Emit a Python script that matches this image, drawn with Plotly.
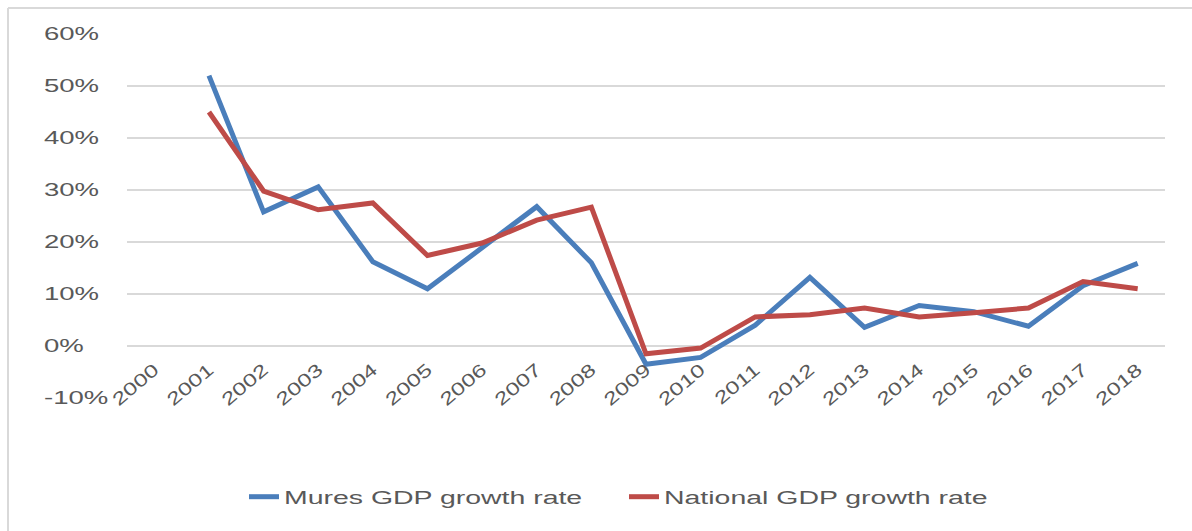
import plotly.graph_objects as go

years = [str(y) for y in range(2000, 2019)]
mures_growth = [None, 52.0, 25.8, 30.6, 16.2, 11.0, 19.0, 26.8, 16.0, -3.5,
                -2.2, 4.0, 13.2, 3.6, 7.8, 6.6, 3.8, 11.6, 15.9]
national_growth = [None, 45.0, 29.8, 26.2, 27.5, 17.4, 19.8, 24.2, 26.7, -1.5,
                   -0.4, 5.6, 6.0, 7.3, 5.6, 6.4, 7.3, 12.4, 11.0]
y_ticks = [-10, 0, 10, 20, 30, 40, 50, 60]
y_tick_text = [f"{v}%" for v in y_ticks]

W, H = 1192, 531
ML, MR, MT, MB = 40, 27, 34, 133
plot_w = W - ML - MR
plot_h = H - MT - MB
x_dom0 = (127 - ML) / plot_w

def px_x(px):
    return (px - ML) / plot_w

def px_y(py):
    return (H - MB - py) / plot_h

label_font = dict(family="Liberation Sans, Arial, sans-serif", size=18, color="#595959")

fig = go.Figure()
fig.add_trace(go.Scatter(
    x=years, y=mures_growth, mode="lines", name="Mures GDP growth rate",
    line=dict(color="#4A7EBB", width=5), connectgaps=False,
))
fig.add_trace(go.Scatter(
    x=years, y=national_growth, mode="lines", name="National GDP growth rate",
    line=dict(color="#BE4B48", width=5), connectgaps=False,
))

fig.update_layout(
    width=W, height=H,
    margin=dict(l=ML, r=MR, t=MT, b=MB),
    paper_bgcolor="white", plot_bgcolor="white",
    font=label_font,
    showlegend=True,
    legend=dict(orientation="h", xanchor="left", yanchor="middle",
                x=px_x(244), y=px_y(497), font=label_font, itemwidth=30,
                entrywidth=335, entrywidthmode="pixels",
                bgcolor="rgba(0,0,0,0)"),
    xaxis=dict(
        domain=[x_dom0, 1], type="category", categoryorder="array", categoryarray=years,
        range=[-0.5, 18.5], anchor="free", position=1 / 7,
        showgrid=False, showline=False, zeroline=False, ticks="",
        tickangle=-40, tickfont=label_font, ticklabelstandoff=9,
    ),
    yaxis=dict(
        range=[-10, 60], tickvals=y_ticks, ticktext=y_tick_text,
        anchor="free", position=0, ticklabelposition="inside",
        ticklabeloverflow="allow", ticklabelstandoff=0,
        showgrid=True, gridcolor="#D9D9D9", gridwidth=2,
        zeroline=False, showline=False, ticks="", tickfont=label_font,
    ),
    shapes=[
        dict(type="line", xref="paper", yref="paper",
             x0=px_x(8), x1=px_x(W), y0=px_y(8), y1=px_y(8),
             line=dict(color="#D9D9D9", width=2)),
        dict(type="line", xref="paper", yref="paper",
             x0=px_x(8), x1=px_x(8), y0=px_y(8), y1=px_y(H),
             line=dict(color="#D9D9D9", width=2)),
    ],
)

# Widen the glyphs horizontally so the labels keep their broad lettering.
widen_text = """
var gd = document.getElementById('{plot_id}');
function widen(sel, k) {
  var nodes = gd.querySelectorAll(sel);
  for (var i = 0; i < nodes.length; i++) {
    var t = nodes[i];
    var txt = t.textContent;
    if (t.getAttribute('data-wide') === txt) { continue; }
    t.removeAttribute('textLength');
    var w = t.getComputedTextLength();
    if (!(w > 0)) { continue; }
    t.setAttribute('textLength', (w * k).toFixed(1));
    t.setAttribute('lengthAdjust', 'spacingAndGlyphs');
    t.setAttribute('data-wide', txt);
  }
  var boxes = gd.querySelectorAll('.scrollbox');
  for (var j = 0; j < boxes.length; j++) { boxes[j].removeAttribute('clip-path'); }
}
function widenAll() {
  widen('.ytick text', 1.53);
  widen('.xtick text', 1.35);
  widen('text.legendtext', 1.58);
}
widenAll();
gd.on('plotly_afterplot', widenAll);
setTimeout(widenAll, 30);
setTimeout(widenAll, 300);
"""

fig.write_html("out.html", post_script=widen_text)
